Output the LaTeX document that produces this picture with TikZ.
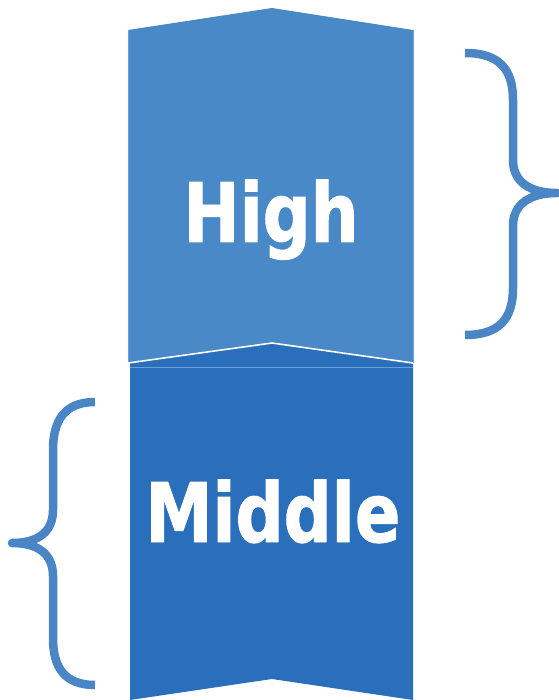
\documentclass[tikz,border=0pt]{standalone}
\usepackage{fontspec}
\newfontfamily\labelfont[FakeStretch=0.82,FakeBold=1.2]{DejaVu Sans Bold}
\definecolor{highblue}{HTML}{4A89C8}
\definecolor{midblue}{HTML}{2A6FBB}
\definecolor{bracecol}{HTML}{4A86C5}
\definecolor{edgeblue}{HTML}{6B9FD6}
\begin{document}
\begin{tikzpicture}[x=1pt,y=-1pt,
  label text/.style={text=white,font=\labelfont\fontsize{82}{90}\selectfont,inner sep=0pt,anchor=base},
  bracket/.style={draw=bracecol,line width=8.5pt,line join=round,line cap=butt}]
\useasboundingbox (0,0) rectangle (558,700);
% Middle band
\fill[midblue] (130,363) -- (272,343) -- (413,363) -- (413,700) -- (272,679) -- (130,700) -- cycle;
\draw[edgeblue,line width=1pt] (130,367) -- (413,367);
% High band
\fill[highblue] (128,30) -- (272,8) -- (413,30) -- (413,363) -- (272,343) -- (128,363) -- cycle;
\draw[edgeblue,line width=0.8pt] (128,30) -- (128,363) (413,30) -- (413,363);
\draw[white,line width=1.6pt] (128,363) -- (272,343) -- (413,363);
% Labels
\node[label text] (high) at (271,242) {High};
\node[label text] (middle) at (273,542) {Middle};
% Braces
\draw[bracket] (465,53) .. controls (500,53) and (513,70) .. (513,100) -- (513,160)
  .. controls (513,182) and (530,193) .. (557,193)
  .. controls (530,193) and (513,204) .. (513,226) -- (513,288)
  .. controls (513,318) and (500,335) .. (465,335);
\draw[bracket] (95,402) .. controls (65,402) and (53,420) .. (53,450) -- (53,510)
  .. controls (53,532) and (38,543) .. (12,543)
  .. controls (38,543) and (53,554) .. (53,576) -- (53,638)
  .. controls (53,668) and (65,685) .. (95,685);
\end{tikzpicture}
\end{document}
